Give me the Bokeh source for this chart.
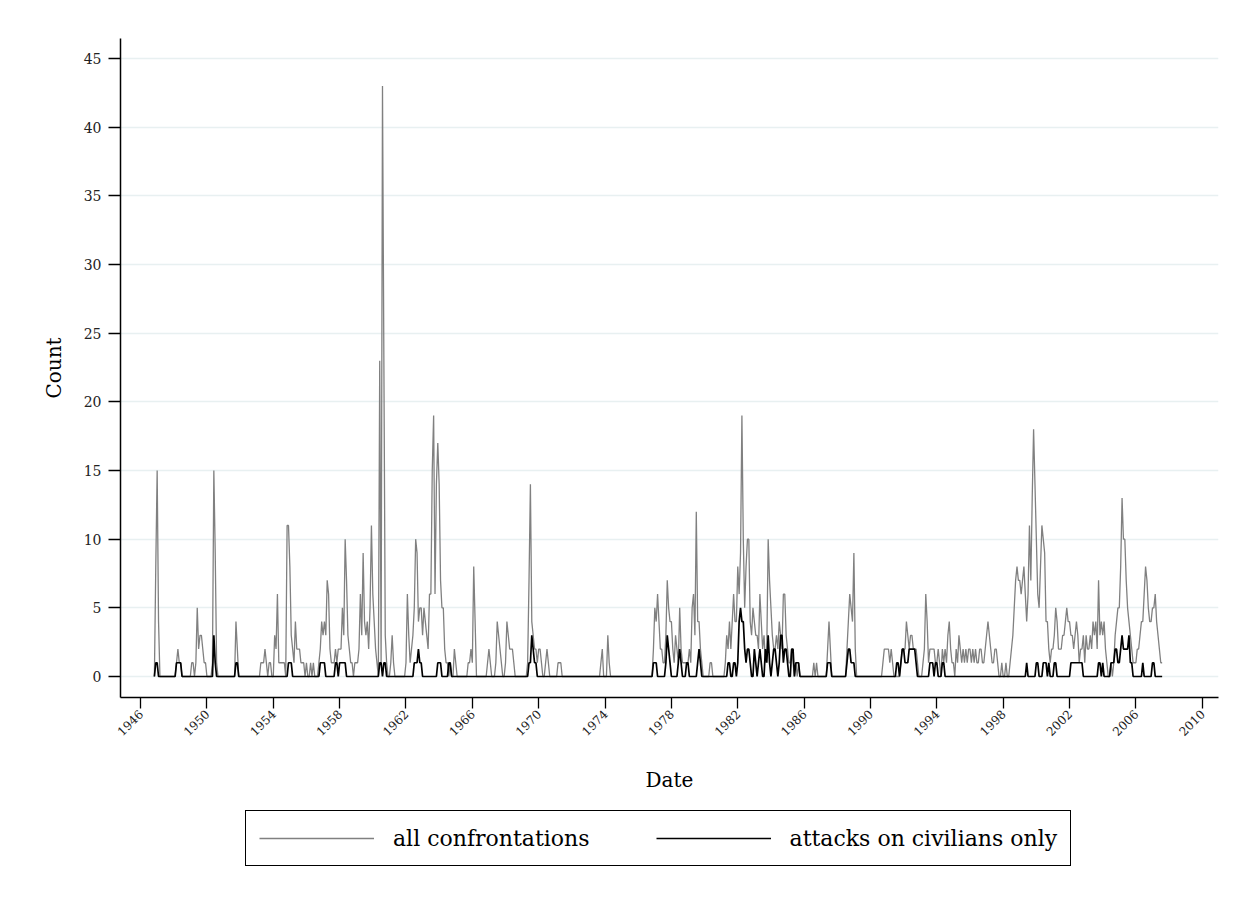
from math import pi
from bokeh.plotting import figure
from bokeh.layouts import column
from bokeh.models import FixedTicker, Legend, LegendItem, Range1d, ColumnDataSource
from bokeh.embed import file_html
from bokeh.resources import INLINE

# ---------------- data (monthly counts, each list starts in January) -------------
# all confrontations
conf_1946 = [0,0,0,0,0,0,0,0,0,0,0,8,
             15,4,0,0,0,0,0,0,0,0,0,0,
             0,0,1,2,1,1,0,0,0,0,0,0,
             0,1,1,0,1,5,2,3,3,2,1,1]
conf_1950 = [0,0,0,0,1,15,9,1,0,0,0,0,
             0,0,0,0,0,0,0,0,0,4,2,0,
             0,0,0,0,0,0,0,0,0,0,0,0,
             0,0,0,1,1,1,2,1,0,1,1,0,
             0,3,2,6,1,1,1,1,1,0,11,11,
             8,3,2,1,4,2,2,2,1,1,1,0,
             1,0,0,1,0,1,0,0,0,1,2,4,
             3,4,3,7,6,2,1,1,1,2,1,2,
             2,2,5,3,10,7,3,2,1,1,0,1,
             1,1,2,6,3,9,4,3,4,2,5,11]
conf_1960 = [6,4,2,1,0,23,1,43,23,3,1,0,
             0,1,3,1,0,0,0,0,0,0,0,0,
             1,6,3,1,2,3,5,10,9,4,5,5,
             3,5,4,3,2,6,6,15,19,6,14,17,
             14,7,5,5,2,1,1,0,1,0,0,2,
             1,0,0,0,0,0,0,0,0,1,1,2,
             1,8,4,0,0,0,0,0,0,0,0,1,
             2,1,0,0,0,1,4,3,2,1,0,0,
             1,4,3,2,2,2,1,0,0,0,0,0,
             0,0,0,0,1,7,14,4,3,2,2,1]
conf_1970 = [2,2,1,0,0,1,2,1,0,0,0,0,
             0,0,1,1,1,0,0,0,0,0,0,0,
             0,0,0,0,0,0,0,0,0,0,0,0,
             0,0,0,0,0,0,0,0,0,1,2,0,
             0,0,3,1,0,0,0,0,0,0,0,0,
             0,0,0,0,0,0,0,0,0,0,0,0,
             0,0,0,0,0,0,0,0,0,0,0,2,
             5,4,6,4,2,2,1,1,3,7,5,4,
             4,2,1,3,2,1,5,2,1,1,1,1,
             1,2,1,5,6,3,12,4,4,2,1,0]
conf_1980 = [0,0,0,0,1,1,0,0,0,0,0,0,
             0,0,0,1,3,2,4,2,4,6,4,4,
             8,6,9,19,10,5,8,10,10,4,3,5,
             4,3,3,2,6,4,2,3,1,2,10,7,
             5,3,2,2,3,2,4,3,2,6,6,3,
             2,1,1,2,1,0,1,0,1,0,0,0,
             0,0,0,0,0,0,0,1,0,1,0,0,
             0,0,0,0,0,2,4,2,0,0,0,0,
             0,0,0,0,0,0,0,2,4,6,5,4,
             9,2,0,0,0,0,0,0,0,0,0,0]
conf_1990 = [0,0,0,0,0,0,0,0,0,1,2,2,
             2,2,1,2,1,0,0,0,0,0,1,2,
             2,2,4,3,2,3,3,2,2,2,1,0,
             0,0,1,2,6,4,1,2,2,2,2,1,
             1,2,1,0,2,1,2,1,3,4,2,1,
             1,0,2,1,3,2,1,2,1,2,1,2,
             2,1,2,1,2,1,1,2,2,1,1,2,
             3,4,3,2,1,1,2,2,1,0,0,1,
             0,0,1,0,0,1,2,3,5,7,8,7,
             7,6,7,8,6,4,6,11,7,13,18,14]
conf_2000 = [10,6,5,8,11,10,9,4,4,2,1,2,
             2,3,5,4,2,2,2,3,3,4,5,4,
             4,3,3,2,3,4,3,1,2,2,3,1,
             3,2,2,3,2,4,3,4,2,7,3,4,
             3,4,2,1,0,0,1,0,1,3,4,5,
             5,8,13,10,10,7,5,4,3,2,1,1,
             1,2,2,3,4,4,6,8,7,5,4,4,
             5,5,6,4,3,2,1,1]

# attacks on civilians only
civ_1946 = [0,0,0,0,0,0,0,0,0,0,0,1,
            1,0,0,0,0,0,0,0,0,0,0,0,
            0,0,1,1,1,1,0,0,0,0,0,0,
            0,0,0,0,0,0,0,0,0,0,0,0]
civ_1950 = [0,0,0,0,0,3,1,0,0,0,0,0,
            0,0,0,0,0,0,0,0,0,1,1,0,
            0,0,0,0,0,0,0,0,0,0,0,0,
            0,0,0,0,0,0,0,0,0,0,0,0,
            0,0,0,0,0,0,0,0,0,0,0,1,
            1,1,0,0,0,0,0,0,0,0,0,0,
            0,0,0,0,0,0,0,0,0,0,1,1,
            1,1,0,0,0,0,0,0,0,1,1,0,
            1,1,1,1,1,0,0,0,0,0,0,0,
            0,0,0,0,0,0,0,0,0,0,0,0]
civ_1960 = [0,0,0,0,0,1,1,0,1,1,0,0,
            0,0,0,0,0,0,0,0,0,0,0,0,
            0,0,0,0,0,0,1,1,1,2,1,1,
            0,0,0,0,0,0,0,0,0,0,0,1,
            1,1,0,0,0,0,0,1,1,0,0,0,
            0,0,0,0,0,0,0,0,0,0,0,0,
            0,0,0,0,0,0,0,0,0,0,0,0,
            0,0,0,0,0,0,0,0,0,0,0,0,
            0,0,0,0,0,0,0,0,0,0,0,0,
            0,0,0,0,0,1,1,3,2,1,1,0]
civ_1970 = [0,0,0,0,0,0,0,0,0,0,0,0,
            0,0,0,0,0,0,0,0,0,0,0,0,
            0,0,0,0,0,0,0,0,0,0,0,0,
            0,0,0,0,0,0,0,0,0,0,0,0,
            0,0,0,0,0,0,0,0,0,0,0,0,
            0,0,0,0,0,0,0,0,0,0,0,0,
            0,0,0,0,0,0,0,0,0,0,0,1,
            1,1,0,0,0,0,0,0,1,3,2,1,
            0,0,0,0,0,1,2,1,0,0,0,1,
            1,0,0,0,0,0,0,1,2,1,0,0]
civ_1980 = [0,0,0,0,0,0,0,0,0,0,0,0,
            0,0,0,0,0,1,1,0,0,1,1,0,
            1,4,5,4,4,2,1,2,2,1,0,0,
            2,1,0,1,2,1,0,0,2,1,3,1,
            0,1,2,2,1,0,1,3,3,1,2,2,
            1,0,0,2,2,0,1,1,1,0,0,0,
            0,0,0,0,0,0,0,0,0,0,0,0,
            0,0,0,0,0,1,1,1,0,0,0,0,
            0,0,0,0,0,0,0,1,2,2,1,1,
            1,0,0,0,0,0,0,0,0,0,0,0]
civ_1990 = [0,0,0,0,0,0,0,0,0,0,0,0,
            0,0,0,0,0,0,0,1,1,0,1,2,
            2,1,1,1,2,2,2,2,2,1,0,0,
            0,0,0,0,0,0,0,1,1,1,0,1,
            1,0,0,0,1,1,0,0,0,0,0,0,
            0,0,0,0,0,0,0,0,0,0,0,0,
            0,0,0,0,0,0,0,0,0,0,0,0,
            0,0,0,0,0,0,0,0,0,0,0,0,
            0,0,0,0,0,0,0,0,0,0,0,0,
            0,0,0,0,0,1,0,0,0,0,0,0]
civ_2000 = [1,1,0,0,0,1,1,1,0,1,0,0,
            0,1,1,0,0,0,0,0,0,0,0,0,
            0,1,1,1,1,1,1,1,1,1,0,0,
            0,0,0,0,0,0,0,0,0,1,1,0,
            1,0,0,0,0,0,1,1,1,2,2,1,
            1,2,3,2,2,2,2,3,1,1,0,0,
            0,0,0,0,0,1,0,0,0,0,0,0,
            1,1,0,0,0,0,0,0]

series_start = (1946, 11)     # first month drawn
tick_years = list(range(1946, 2011, 4))
legend_labels = ["all confrontations", "attacks on civilians only"]

# --------------- build monthly series --------------------------------------------
conf_all = conf_1946 + conf_1950 + conf_1960 + conf_1970 + conf_1980 + conf_1990 + conf_2000
civ_all = civ_1946 + civ_1950 + civ_1960 + civ_1970 + civ_1980 + civ_1990 + civ_2000
dates = [1946 + i / 12.0 for i in range(len(conf_all))]
i0 = (series_start[0] - 1946) * 12 + series_start[1] - 1
src = ColumnDataSource(dict(x=dates[i0:], conf=conf_all[i0:], civ=civ_all[i0:]))

FONT = "DejaVu Serif"
GRAY = "#808080"

p = figure(width=1249, height=800, output_backend="svg", toolbar_location=None,
           x_range=Range1d(1944.79, 2010.98), y_range=Range1d(-1.53, 46.46),
           min_border_left=120, min_border_right=31, min_border_top=38,
           min_border_bottom=103)
p.outline_line_color = None
p.background_fill_color = "white"
p.border_fill_color = "white"

p.line("x", "conf", source=src, line_color=GRAY, line_width=1.3)
p.line("x", "civ", source=src, line_color="black", line_width=1.7)

# axes
p.xaxis.ticker = FixedTicker(ticks=tick_years)
p.xaxis.major_label_overrides = {y: str(y) for y in tick_years}
p.yaxis.ticker = FixedTicker(ticks=list(range(0, 46, 5)))
for ax in (p.xaxis, p.yaxis):
    ax.axis_line_color = "black"
    ax.axis_line_width = 1.5
    ax.major_tick_line_color = "black"
    ax.major_tick_line_width = 1.3
    ax.major_tick_in = 0
    ax.minor_tick_line_color = None
    ax.major_label_text_font = FONT
    ax.major_label_text_color = "#222222"
    ax.axis_label_text_font = FONT
    ax.axis_label_text_font_size = "20px"
    ax.axis_label_text_font_style = "normal"
    ax.axis_label_text_color = "black"

p.xaxis.axis_label = "Date"
p.xaxis.major_tick_out = 11
p.xaxis.major_label_text_font_size = "12px"
p.xaxis.major_label_orientation = pi / 4
p.xaxis.major_label_standoff = 3
p.xaxis.axis_label_standoff = 25
p.yaxis.axis_label = "Count"
p.yaxis.major_tick_out = 12
p.yaxis.major_label_text_font_size = "14px"
p.yaxis.major_label_orientation = "horizontal"
p.yaxis.major_label_standoff = 7
p.yaxis.axis_label_standoff = 15

p.xgrid.grid_line_color = None
p.ygrid.grid_line_color = "#e8f0f1"
p.ygrid.grid_line_width = 1.3

# ---------------- legend strip below the chart -----------------------------------
lg = figure(width=1249, height=106, output_backend="svg", toolbar_location=None,
            x_range=Range1d(0, 1), y_range=Range1d(0, 1),
            min_border_left=0, min_border_right=0, min_border_top=0, min_border_bottom=0)
lg.axis.visible = False
lg.grid.visible = False
lg.outline_line_color = None
lg.border_fill_color = "white"
# key renderers: their points lie outside the strip's range, only the legend shows them
k1 = lg.line(x=[5, 6], y=[5, 6], line_color=GRAY, line_width=1.3)
k2 = lg.line(x=[5, 6], y=[5, 6], line_color="black", line_width=1.7)

legend = Legend(items=[LegendItem(label=legend_labels[0], renderers=[k1]),
                       LegendItem(label=legend_labels[1], renderers=[k2])],
                location=(125, 40), orientation="horizontal")
legend.border_line_color = "black"
legend.border_line_alpha = 1
legend.border_line_width = 1.3
legend.background_fill_color = "white"
legend.background_fill_alpha = 1
legend.label_text_font = FONT
legend.label_text_font_size = "22px"
legend.label_text_color = "black"
legend.glyph_width = 115
legend.glyph_height = 28
legend.label_height = 28
legend.label_standoff = 19
legend.spacing = 66
legend.padding = 13
legend.margin = 0
lg.add_layout(legend, "center")

layout = column(p, lg, spacing=0)
open("out.html", "w").write(file_html(layout, INLINE))
